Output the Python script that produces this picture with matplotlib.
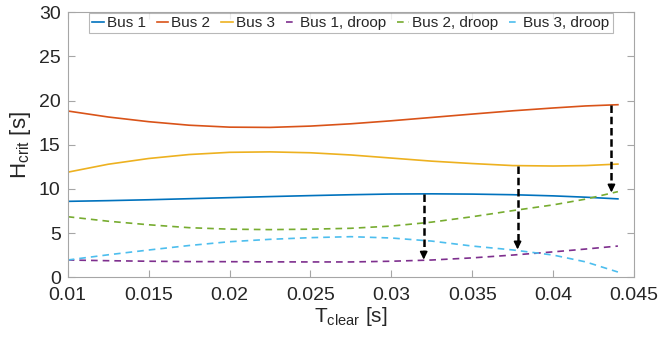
import matplotlib
matplotlib.use("Agg")
import matplotlib.pyplot as plt

plt.rcParams['font.family'] = ['Liberation Sans', 'DejaVu Sans']

t_clear = [0.010, 0.0125, 0.015, 0.0175, 0.020, 0.0225, 0.025, 0.0275,
           0.030, 0.0325, 0.035, 0.0375, 0.040, 0.042, 0.044]

bus1 = [8.60, 8.68, 8.78, 8.90, 9.02, 9.14, 9.25, 9.35, 9.43, 9.45, 9.42, 9.35, 9.22, 9.07, 8.88]
bus2 = [18.83, 18.15, 17.62, 17.22, 17.00, 16.97, 17.12, 17.38, 17.72, 18.10, 18.48, 18.85, 19.17, 19.40, 19.54]
bus3 = [11.90, 12.80, 13.45, 13.90, 14.15, 14.20, 14.10, 13.85, 13.50, 13.15, 12.88, 12.65, 12.60, 12.65, 12.82]
bus1_droop = [1.96, 1.88, 1.82, 1.78, 1.77, 1.75, 1.74, 1.74, 1.82, 1.96, 2.20, 2.52, 2.88, 3.20, 3.54]
bus2_droop = [6.86, 6.35, 5.95, 5.62, 5.45, 5.40, 5.45, 5.55, 5.80, 6.25, 6.86, 7.55, 8.20, 8.85, 9.70]
bus3_droop = [1.96, 2.55, 3.09, 3.60, 4.03, 4.30, 4.49, 4.60, 4.45, 4.10, 3.54, 3.10, 2.52, 1.75, 0.60]

labels = ['Bus 1', 'Bus 2', 'Bus 3', 'Bus 1, droop', 'Bus 2, droop', 'Bus 3, droop']
colors = ['#0072BD', '#D95319', '#EDB120', '#7E2F8E', '#77AC30', '#4DBEEE']

arrow_x = [0.0320, 0.0378, 0.0436]
arrow_top = [9.43, 12.60, 19.50]
arrow_bottom = [2.00, 3.15, 9.60]

fig = plt.figure(figsize=(6.59, 3.43), dpi=100)
ax = fig.add_axes([0.1027, 0.1915, 0.8595, 0.7726])

series = [bus1, bus2, bus3, bus1_droop, bus2_droop, bus3_droop]
for i, (s, lab, c) in enumerate(zip(series, labels, colors)):
    if i < 3:
        ax.plot(t_clear, s, color=c, lw=1.2, label=lab)
    else:
        ax.plot(t_clear, s, color=c, lw=1.2, ls=(0, (4, 3)), label=lab)

for x, y0, y1 in zip(arrow_x, arrow_top, arrow_bottom):
    ax.plot([x, x], [y0, y1 + 0.6], color='k', lw=1.8, ls=(0, (3, 1.5)))
    ax.annotate('', xy=(x, y1), xytext=(x, y1 + 0.9),
                arrowprops=dict(arrowstyle='-|>,head_length=0.45,head_width=0.22',
                                color='k', lw=1.2, shrinkA=0, shrinkB=0))

ax.set_xlim(0.01, 0.045)
ax.set_ylim(0, 30)
ax.set_xticks([0.01, 0.015, 0.02, 0.025, 0.03, 0.035, 0.04, 0.045])
ax.set_xticklabels(['0.01', '0.015', '0.02', '0.025', '0.03', '0.035', '0.04', '0.045'])
ax.set_yticks([0, 5, 10, 15, 20, 25, 30])

for sp in ax.spines.values():
    sp.set_color('#a6a6a6')
    sp.set_linewidth(0.8)
ax.tick_params(direction='in', top=True, right=True, colors='#a6a6a6',
               labelcolor='#262626', labelsize=14, length=5, width=0.8)
ax.tick_params(axis='x', pad=7)
ax.tick_params(axis='y', pad=5)

ax.set_xlabel(r'T$_{\mathregular{clear}}$ [s]', fontsize=15, color='#262626', labelpad=1)
ax.set_ylabel(r'H$_{\mathregular{crit}}$ [s]', fontsize=16, color='#262626', labelpad=4)

leg = ax.legend(loc='upper center', ncol=6, fontsize=11, frameon=True, fancybox=False,
                borderaxespad=0.05, handlelength=0.75, handletextpad=0.2,
                columnspacing=0.72, borderpad=0.2, bbox_to_anchor=(0.5, 1.0))
leg.get_frame().set_edgecolor('#a6a6a6')
leg.get_frame().set_linewidth(0.8)
for txt in leg.get_texts():
    txt.set_color('#262626')

fig.savefig('out.png', dpi=100)
